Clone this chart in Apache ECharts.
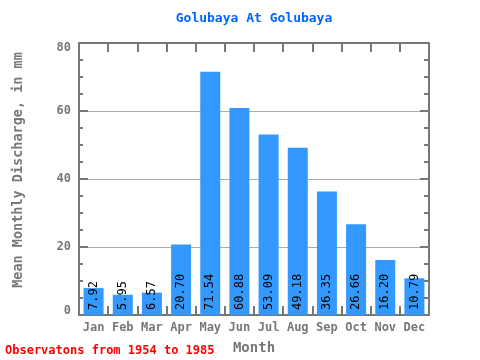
<!DOCTYPE html>
<html><head><meta charset="utf-8">
<script src="https://cdn.jsdelivr.net/npm/echarts@6/dist/echarts.min.js"></script>
<style>html,body{margin:0;padding:0;background:#fff}#c{width:480px;height:360px}</style>
</head><body><div id="c"></div>
<script>
var months = ['Jan','Feb','Mar','Apr','May','Jun','Jul','Aug','Sep','Oct','Nov','Dec'];
var discharge = [7.92,5.95,6.57,20.70,71.54,60.88,53.09,49.18,36.35,26.66,16.20,10.79];
var yTicks = {min:0, max:80, interval:20};
var titleText = 'Golubaya At Golubaya';
var yName = 'Mean Monthly Discharge, in mm';
var xName = 'Month';
var note = 'Observatons from 1954 to 1985';

var mono = 'DejaVu Sans Mono';
var gray = '#777777';
var chart = echarts.init(document.getElementById('c'));
var axisLine = {show:true, onZero:false, lineStyle:{color:gray, width:2}};
chart.setOption({
  animation:false,
  title:{text:titleText, left:249, top:7, textAlign:'center',
    textStyle:{fontFamily:mono, fontSize:13, fontWeight:'bold', color:'#0066ff'}},
  graphic:[
    {type:'text', left:5, top:345, style:{text:note, fontFamily:mono, fontSize:12, fontWeight:'bold', fill:'#ff0000'}},
    {type:'text', x:18, y:170, rotation:Math.PI/2, style:{text:yName, fontFamily:mono, fontSize:13.5, fontWeight:'bold', fill:gray, align:'center', verticalAlign:'middle'}}
  ],
  grid:{left:79, right:51, top:43, bottom:38},
  xAxis:[{
    type:'category', data:months, position:'bottom',
    name:xName, nameLocation:'middle', nameGap:26,
    nameTextStyle:{fontFamily:mono, fontSize:14, fontWeight:'bold', color:gray},
    axisLine:axisLine,
    axisTick:{show:true, inside:true, interval:0, length:9, lineStyle:{color:gray, width:2}},
    axisLabel:{interval:0, fontFamily:mono, fontSize:12, fontWeight:'bold', color:gray, margin:7}
  },{
    type:'category', data:months, position:'top',
    axisLine:axisLine,
    axisTick:{show:true, inside:true, interval:0, length:9, lineStyle:{color:gray, width:2}},
    axisLabel:{show:true, interval:0, color:'rgba(0,0,0,0)', fontSize:1}
  }],
  yAxis:[{
    type:'value', min:yTicks.min, max:yTicks.max, interval:yTicks.interval, position:'left',
    axisLine:axisLine,
    axisTick:{show:true, inside:true, length:9, lineStyle:{color:gray, width:2}},
    minorTick:{show:true, splitNumber:4, length:4, lineStyle:{color:gray, width:2}},
    splitLine:{show:true, lineStyle:{color:'#aaaaaa', width:1}},
    axisLabel:{fontFamily:mono, fontSize:12, fontWeight:'bold', color:gray, margin:8,
      formatter:function(v){
        if (v === yTicks.max) return '{t|' + v + '}';
        if (v === yTicks.min) return '{b|' + v + '}';
        return '' + v;
      },
      rich:{
        t:{fontFamily:mono, fontSize:12, fontWeight:'bold', color:gray, padding:[9,0,0,0]},
        b:{fontFamily:mono, fontSize:12, fontWeight:'bold', color:gray, padding:[0,0,9,0]}
      }}
  },{
    type:'value', min:yTicks.min, max:yTicks.max, interval:yTicks.interval, position:'right',
    axisLine:axisLine,
    axisTick:{show:true, inside:true, length:9, lineStyle:{color:gray, width:2}},
    minorTick:{show:true, splitNumber:4, length:5, lineStyle:{color:gray, width:2}},
    splitLine:{show:false},
    axisLabel:{show:false}
  }],
  series:[{
    type:'bar', data:discharge, barWidth:20,
    itemStyle:{color:'#3399ff'},
    label:{show:true, position:'insideBottom', rotate:90, align:'left', verticalAlign:'middle', distance:5,
      fontFamily:mono, fontSize:12, color:'#000',
      formatter:function(p){return p.value.toFixed(2);}}
  }]
});
</script></body></html>
